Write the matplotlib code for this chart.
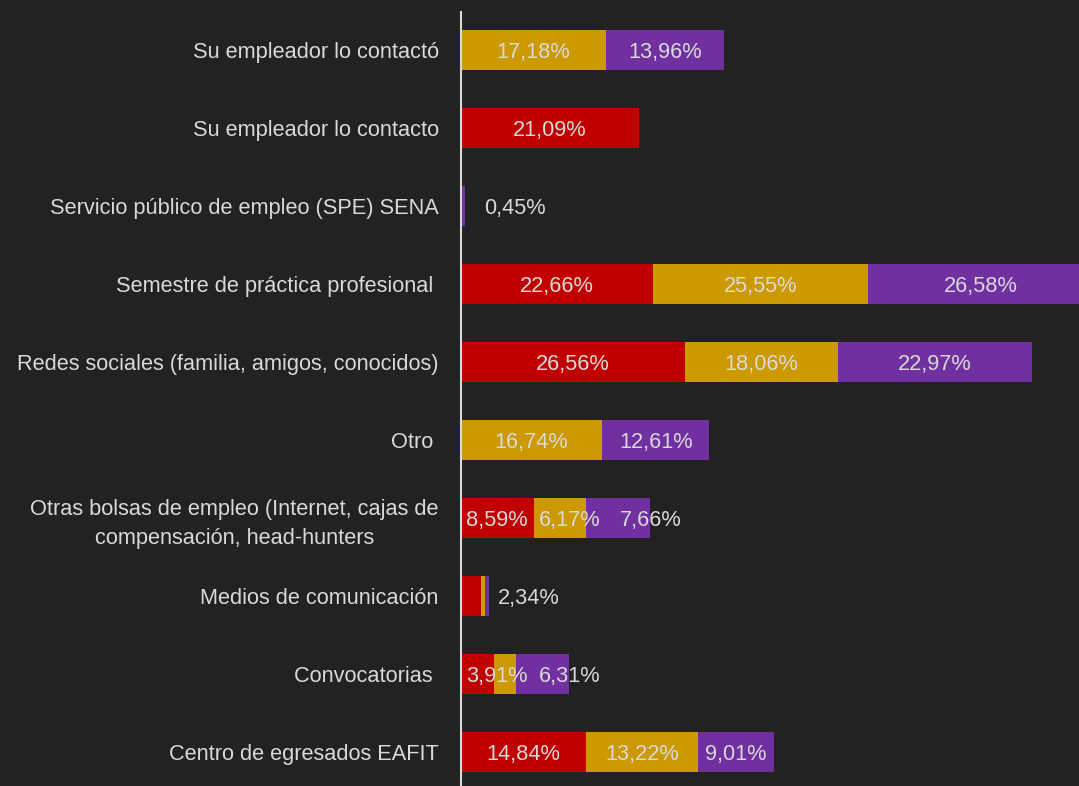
import numpy as np
import matplotlib.pyplot as plt

# categories listed from bottom to top (barh order)
categories = [
    'Centro de egresados EAFIT',
    'Convocatorias ',
    'Medios de comunicación',
    'Otras bolsas de empleo (Internet, cajas de\ncompensación, head-hunters',
    'Otro ',
    'Redes sociales (familia, amigos, conocidos)',
    'Semestre de práctica profesional ',
    'Servicio público de empleo (SPE) SENA',
    'Su empleador lo contacto',
    'Su empleador lo contactó',
]
red_vals = [14.84, 3.91, 2.34, 8.59, 0, 26.56, 22.66, 0, 21.09, 0]
gold_vals = [13.22, 2.60, 0.47, 6.17, 16.74, 18.06, 25.55, 0, 0, 17.18]
purple_vals = [9.01, 6.31, 0.47, 7.66, 12.61, 22.97, 26.58, 0.45, 0, 13.96]

series = [red_vals, gold_vals, purple_vals]
colors = ['#C00000', '#CC9900', '#7030A0']

# labels that are not shown, and labels moved off the segment centre (data units)
hidden = {(2, 1), (2, 2), (1, 1)}
shift = {(1, 0): 2.3, (1, 2): 3.2, (3, 1): 1.2, (3, 2): 3.9, (2, 0): 6.9, (7, 2): 6.2}

bg = '#222222'
txt = '#D9D9D9'
fs = 15.7
plt.rcParams['font.family'] = ['Liberation Sans Narrow', 'Liberation Sans', 'DejaVu Sans']

fig = plt.figure(figsize=(10.79, 7.86), dpi=100, facecolor=bg)
ax = fig.add_axes([461 / 1079, 0, 1 - 461 / 1079, 774 / 786])
ax.set_facecolor(bg)

y = np.arange(len(categories))
left = np.zeros(len(categories))
for s, (vals, c) in enumerate(zip(series, colors)):
    vals = np.array(vals)
    ax.barh(y, vals, left=left, height=0.513, color=c)
    for i, v in enumerate(vals):
        if v == 0 or (i, s) in hidden:
            continue
        xpos = left[i] + v / 2 + shift.get((i, s), 0)
        ax.text(xpos, y[i], f'{v:.2f}%'.replace('.', ','), ha='center',
                va='center_baseline', color=txt, fontsize=fs)
    left += vals

ax.set_xlim(0, 618 / 8.452)
ax.set_ylim(-0.436, 9.487)
ax.set_yticks(y)
ax.set_yticklabels(categories, fontsize=fs, color=txt, multialignment='center',
                   linespacing=1.45)
ax.tick_params(axis='y', length=0, pad=16)
ax.set_xticks([])
for side in ['top', 'right', 'bottom']:
    ax.spines[side].set_visible(False)
ax.spines['left'].set_color('#D9D9D9')
ax.spines['left'].set_linewidth(1.5)

fig.savefig('out.png', dpi=100, facecolor=bg)
